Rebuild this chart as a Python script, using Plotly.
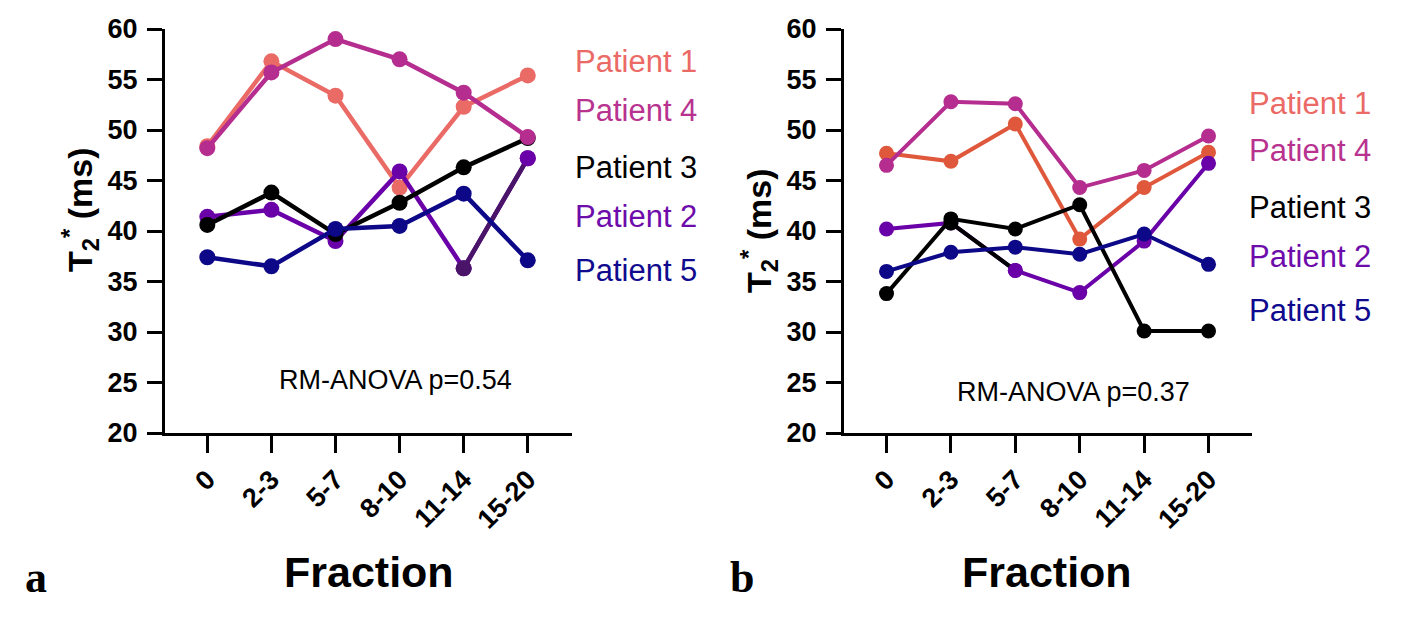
import plotly.graph_objects as go

# ---------------- data ----------------
fractions = ["0", "2-3", "5-7", "8-10", "11-14", "15-20"]

# Panel a
a_p1 = [48.4, 56.8, 53.4, 44.3, 52.3, 55.4]
a_p4 = [48.2, 55.7, 59.0, 57.0, 53.7, 49.3]
a_p2 = [41.4, 42.1, 39.0, 45.9, 36.3, 47.2]
a_p3 = [40.6, 43.8, 39.7, 42.8, 46.3, 49.2]
a_p5 = [37.4, 36.5, 40.2, 40.5, 43.7, 37.1]

# Panel b
b_p1 = [47.7, 46.9, 50.6, 39.2, 44.3, 47.8]
b_p4 = [46.5, 52.8, 52.6, 44.3, 46.0, 49.4]
b_p2 = [40.2, 40.8, 36.1, 33.9, 39.0, 46.7]
b_p3 = [33.8, 41.2, 40.2, 42.6, 30.1, 30.1]
b_p5 = [36.0, 37.9, 38.4, 37.7, 39.7, 36.7]

legend_names = ["Patient 1", "Patient 4", "Patient 3", "Patient 2", "Patient 5"]
anova_a = "RM-ANOVA p=0.54"
anova_b = "RM-ANOVA p=0.37"

y_ticks = [20, 25, 30, 35, 40, 45, 50, 55, 60]

# ---------------- styles ----------------
W, H = 1410, 630
OFF = 8  # page body margin in the browser
C_P1A = "#EA6A66"
C_P1B = "#E0583C"
C_P4 = "#B42D8F"
C_P3 = "#000000"
C_P2 = "#6A00A8"
C_P5 = "#0D0887"
C_DARK = "#4A1468"
LBL_P1 = "#EB6A66"
LBL_P4 = "#B8338F"
LBL_P2 = "#6E0CAB"
LBL_P5 = "#0F0A8E"

SANS = "Liberation Sans, Arial, sans-serif"
SERIF = "Liberation Serif, Times New Roman, serif"

LW_A, MS_A = 4.5, 16
LW_B, MS_B = 4, 15


def px_x(x):
    return (x - OFF) / W


def px_y(y):
    return 1 - (y - OFF) / H


fig = go.Figure()


def add_series(y, color, xa, ya, lw, ms, name):
    fig.add_trace(go.Scatter(
        x=fractions, y=y, mode="lines+markers", name=name,
        line=dict(color=color, width=lw),
        marker=dict(color=color, size=ms),
        xaxis=xa, yaxis=ya, showlegend=False, cliponaxis=False))


# panel a (bottom -> top order)
add_series(a_p1, C_P1A, "x", "y", LW_A, MS_A, "Patient 1")
add_series(a_p2, C_P2, "x", "y", LW_A, MS_A, "Patient 2")
# darker last segment of patient 2 in panel a
fig.add_trace(go.Scatter(
    x=fractions[4:6], y=a_p2[4:6], mode="lines+markers",
    line=dict(color=C_DARK, width=LW_A),
    marker=dict(color=[C_DARK, C_P2], size=MS_A),
    xaxis="x", yaxis="y", showlegend=False, cliponaxis=False))
add_series(a_p3, C_P3, "x", "y", LW_A, MS_A, "Patient 3")
add_series(a_p4, C_P4, "x", "y", LW_A, MS_A, "Patient 4")
add_series(a_p5, C_P5, "x", "y", LW_A, MS_A, "Patient 5")

# panel b
add_series(b_p1, C_P1B, "x2", "y2", LW_B, MS_B, "Patient 1")
add_series(b_p4, C_P4, "x2", "y2", LW_B, MS_B, "Patient 4")
add_series(b_p2, C_P2, "x2", "y2", LW_B, MS_B, "Patient 2")
# segment 2-3 -> 5-7 of patient 2 drawn black in panel b
fig.add_trace(go.Scatter(
    x=fractions[1:3], y=b_p2[1:3], mode="lines+markers",
    line=dict(color=C_P3, width=LW_B),
    marker=dict(color=[C_P3, C_P2], size=MS_B),
    xaxis="x2", yaxis="y2", showlegend=False, cliponaxis=False))
add_series(b_p3, C_P3, "x2", "y2", LW_B, MS_B, "Patient 3")
add_series(b_p5, C_P5, "x2", "y2", LW_B, MS_B, "Patient 5")

ydom = [px_y(433), px_y(29)]

xcommon = dict(
    type="category", showline=True, linecolor="black", linewidth=3,
    ticks="outside", ticklen=17, tickwidth=3, tickcolor="black",
    tickangle=-45, showgrid=False, zeroline=False, automargin=False,
    tickfont=dict(family=SANS, size=27, color="black", weight="bold"),
)
ycommon = dict(
    range=[20, 60], tickvals=y_ticks, showline=True, linecolor="black",
    linewidth=3, ticks="outside", ticklen=15, tickwidth=3, tickcolor="black",
    showgrid=False, zeroline=False, domain=ydom, automargin=False,
    tickfont=dict(family=SANS, size=27, color="black", weight="bold"),
    ticklabelstandoff=4,
)

xa = dict(xcommon); xa.update(domain=[px_x(165), px_x(572)], range=[-0.66, 5.69], anchor="y")
xb = dict(xcommon); xb.update(domain=[px_x(844), px_x(1252)], range=[-0.66, 5.675], anchor="y2")
ya = dict(ycommon); ya.update(anchor="x")
yb = dict(ycommon); yb.update(anchor="x2")

annotations = []


def pix(x, y, text, size, color="black", family=SANS, xanchor="center",
        yanchor="middle", angle=0):
    annotations.append(dict(
        x=px_x(x), y=px_y(y), xref="paper", yref="paper", text=text,
        showarrow=False, xanchor=xanchor, yanchor=yanchor, textangle=angle,
        font=dict(family=family, size=size, color=color)))


# legend-like labels
lbl_colors = [LBL_P1, LBL_P4, C_P3, LBL_P2, LBL_P5]
ya_lbl = [61, 111, 167, 217, 270]
yb_lbl = [103, 151, 207, 257, 310]
for name, col, yy in zip(legend_names, lbl_colors, ya_lbl):
    pix(573, yy, name, 31, col, xanchor="left")
for name, col, yy in zip(legend_names, lbl_colors, yb_lbl):
    pix(1247, yy, name, 31, col, xanchor="left")

# ANOVA texts
pix(395, 380, anova_a, 27)
pix(1073, 392, anova_b, 27)

# y titles
ytitle = "<b>T<sub>2</sub><sup>*</sup> (ms)</b>"
pix(80, 210, ytitle, 34, angle=-90)
pix(759, 231, ytitle, 34, angle=-90)

# x titles
pix(369, 572, "<b>Fraction</b>", 43)
pix(1047, 572, "<b>Fraction</b>", 43)

# panel letters
pix(36, 577, "<b>a</b>", 44, family=SERIF)
pix(742, 577, "<b>b</b>", 44, family=SERIF)

fig.update_layout(
    width=W, height=H, margin=dict(l=0, r=0, t=0, b=0, autoexpand=False),
    paper_bgcolor="white", plot_bgcolor="white",
    xaxis=xa, yaxis=ya, xaxis2=xb, yaxis2=yb,
    annotations=annotations, showlegend=False,
)

fig.write_html("out.html")
